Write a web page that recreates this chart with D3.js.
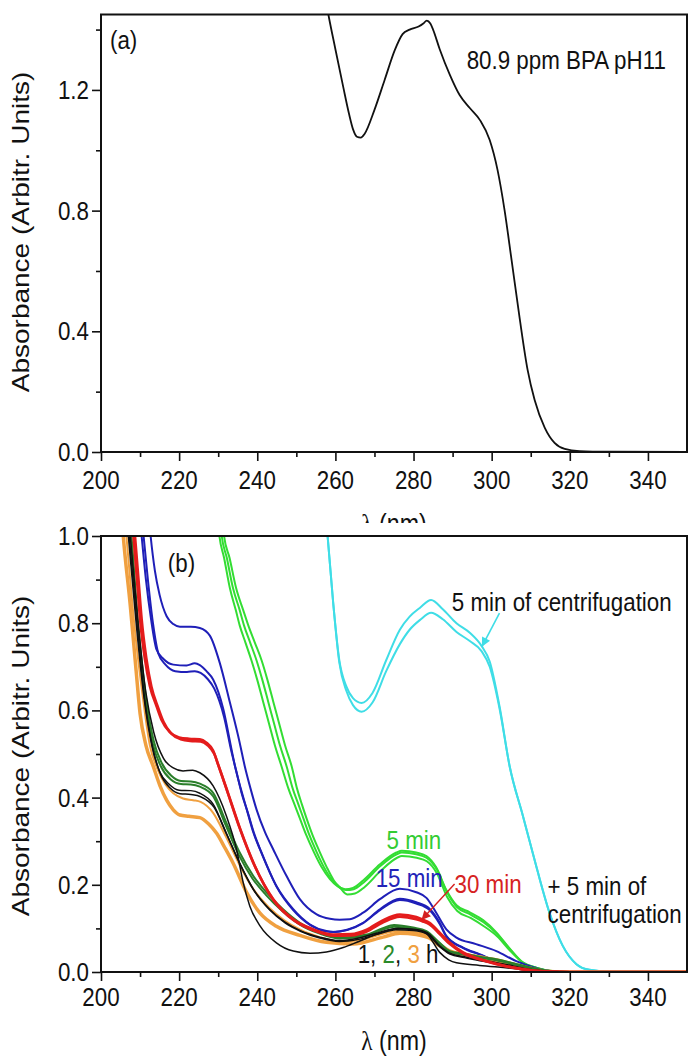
<!DOCTYPE html>
<html><head><meta charset="utf-8">
<script src="https://cdn.jsdelivr.net/npm/d3@7"></script>
<style>
body{margin:0;background:#fff}
svg{display:block}
text{font-family:"Liberation Sans",Arial,sans-serif;font-size:26px;fill:#111}
</style>
</head><body>
<svg id="c" width="689" height="1056"></svg>
<script>
// ---------------- DATA ----------------
const xMajorTicks = [200,220,240,260,280,300,320,340];
const xMinorTicks = [210,230,250,270,290,310,330];
const yTopMajor = [0.0,0.4,0.8,1.2];
const yTopMinor = [0.2,0.6,1.0,1.4];
const yBotMajor = [0.0,0.2,0.4,0.6,0.8,1.0];
const yBotMinor = [0.1,0.3,0.5,0.7,0.9];

// Panel (a): 80.9 ppm BPA pH11
const bpaSpectrum = [[255,1.7],[258.2,1.45],[260,1.335],[262,1.21],[263.5,1.12],[264.5,1.07],[265.5,1.045],[266.5,1.042],[267.5,1.055],[270,1.134],[272.6,1.233],[275.2,1.332],[277.2,1.385],[279,1.40],[281.3,1.41],[282.5,1.42],[283.4,1.43],[284.3,1.42],[285,1.40],[286.7,1.335],[289.3,1.25],[291.8,1.183],[294.4,1.14],[297,1.10],[299.5,1.034],[301.5,0.935],[303.3,0.802],[305.1,0.636],[307.2,0.44],[309.2,0.272],[311,0.172],[313.6,0.08],[316.1,0.03],[318.7,0.01],[322.5,0.003],[330,0.001],[350,0]];

// Panel (b)
const cyanUpper = [[256,1.25],[258,1.0],[259.4,0.85],[261,0.715],[262.8,0.655],[264.5,0.628],[266.7,0.617],[269.5,0.64],[273,0.715],[276.5,0.785],[279,0.815],[281.6,0.835],[284.5,0.853],[287.5,0.832],[291,0.80],[294.4,0.778],[297.4,0.748],[299.5,0.712],[302,0.61],[304.6,0.472],[308,0.358],[311.4,0.243],[314.8,0.136],[318.2,0.06],[321.7,0.018],[325,0.005],[330,0.001],[350,0]];
const cyanLower = [[256,1.25],[258,1.0],[259.4,0.85],[261,0.71],[262.8,0.645],[264.5,0.612],[266.7,0.597],[269.5,0.618],[273,0.69],[276.5,0.752],[279,0.785],[281.6,0.807],[284.5,0.824],[287.5,0.809],[291,0.78],[294.4,0.759],[297.4,0.736],[299.5,0.70],[302,0.605],[304.6,0.472],[308,0.358],[311.4,0.243],[314.8,0.136],[318.2,0.06],[321.7,0.018],[325,0.005],[330,0.001],[350,0]];

const green5a = [[229.3,1.1],[230.3,1.0],[231.5,0.95],[233,0.88],[234.5,0.83],[235.5,0.795],[237,0.755],[238.5,0.715],[240,0.67],[241.5,0.62],[243,0.57],[244.5,0.52],[246.2,0.472],[248,0.42],[249.5,0.385],[251,0.35],[252.5,0.315],[254.5,0.275],[256.5,0.24],[258.6,0.213],[260.5,0.197],[262.5,0.19],[264.5,0.193],[267.1,0.21],[271.4,0.247],[275.6,0.274],[277,0.278],[280.7,0.274],[283.3,0.266],[285.8,0.24],[288.4,0.188],[291,0.153],[294.4,0.137],[297.8,0.119],[301.2,0.091],[304.6,0.054],[308,0.022],[311.4,0.01],[314.8,0.003],[320,0],[350,0]];
const green5b = [[229.9,1.1],[230.9,1.0],[232.2,0.95],[233.8,0.88],[235.5,0.83],[236.6,0.795],[238.2,0.755],[239.8,0.715],[241.3,0.67],[242.8,0.62],[244.3,0.57],[245.8,0.52],[247.5,0.472],[249.1,0.42],[250.5,0.385],[251.9,0.35],[253.3,0.315],[255.2,0.275],[257.1,0.24],[259,0.213],[260.8,0.197],[262.7,0.188],[264.7,0.19],[267.3,0.206],[271.5,0.243],[275.7,0.27],[277,0.274],[280.7,0.27],[283.3,0.262],[285.9,0.236],[288.5,0.184],[291.1,0.149],[294.5,0.132],[297.9,0.114],[301.3,0.088],[304.7,0.052],[308,0.021],[311.4,0.01],[314.8,0.003],[320,0],[350,0]];
const green5c = [[230.5,1.1],[231.5,1.0],[232.9,0.95],[234.6,0.88],[236.4,0.83],[237.7,0.795],[239.4,0.755],[241.1,0.715],[242.6,0.67],[244.1,0.62],[245.6,0.57],[247.1,0.52],[248.8,0.472],[250.2,0.42],[251.4,0.385],[252.7,0.35],[254.1,0.315],[256,0.275],[257.8,0.24],[259.6,0.21],[261.3,0.192],[263,0.178],[265,0.18],[267.5,0.195],[271.6,0.232],[275.8,0.262],[277,0.266],[280.8,0.262],[283.4,0.254],[286,0.226],[288.6,0.172],[291.2,0.14],[294.6,0.124],[298,0.105],[301.4,0.082],[304.8,0.048],[308.2,0.02],[311.5,0.009],[315,0.002],[320,0],[350,0]];

const blue15a = [[211.7,1.1],[212.7,1.0],[213.8,0.92],[215,0.865],[216.8,0.816],[218.5,0.798],[220.2,0.792],[223,0.792],[225.3,0.789],[227.9,0.771],[230.4,0.709],[233,0.618],[235.5,0.526],[236.8,0.472],[238.3,0.42],[239.8,0.373],[242,0.32],[244.1,0.281],[247.5,0.22],[250.9,0.167],[255.2,0.132],[258.6,0.122],[261.1,0.12],[263.7,0.121],[267.1,0.136],[271.4,0.167],[276.5,0.191],[280.7,0.183],[283.3,0.17],[285.8,0.136],[288.4,0.098],[291,0.079],[296,0.064],[301.2,0.048],[306.3,0.025],[309.7,0.014],[313,0.005],[318,0],[350,0]];
const blue15b = [[209.4,1.1],[210.4,1.0],[211.5,0.9],[212.8,0.81],[214.2,0.74],[216,0.718],[218.5,0.705],[221.9,0.703],[224,0.708],[225.3,0.704],[227,0.69],[228.7,0.671],[231.3,0.603],[233.4,0.511],[234.3,0.472],[235.8,0.42],[237.3,0.373],[239,0.32],[240.7,0.281],[244.9,0.197],[249.2,0.144],[253.5,0.109],[257.7,0.094],[259.4,0.092],[263,0.097],[267.1,0.113],[271.4,0.144],[276.5,0.168],[280.7,0.16],[284.1,0.145],[286.7,0.113],[288.4,0.083],[292.7,0.056],[296.9,0.041],[301.2,0.025],[305.5,0.014],[310,0.005],[315,0],[350,0]];
const blue15c = [[209.9,1.1],[210.9,1.0],[212,0.9],[213.3,0.8],[214.7,0.73],[216.5,0.705],[219,0.69],[222,0.688],[224,0.69],[225.5,0.686],[227.3,0.672],[229,0.65],[231.5,0.585],[233.4,0.505],[234.6,0.462],[236,0.41],[237.6,0.365],[239.3,0.315],[241,0.276],[245,0.195],[249.2,0.142],[253.5,0.108],[257.7,0.093],[260,0.092],[263,0.096],[267.1,0.112],[271.4,0.142],[276.5,0.165],[280.7,0.157],[284.1,0.142],[286.7,0.11],[288.4,0.081],[292.7,0.055],[296.9,0.04],[301.2,0.025],[305.5,0.014],[310,0.005],[315,0],[350,0]];

const red30a = [[207.3,1.1],[208.3,1.0],[209.2,0.9],[210,0.809],[211.2,0.72],[212.5,0.656],[214.2,0.61],[215.5,0.578],[217.6,0.55],[220,0.538],[222.5,0.535],[225.3,0.534],[227,0.526],[228.7,0.508],[230,0.475],[232.3,0.415],[235.5,0.33],[239,0.25],[244.1,0.167],[249.2,0.121],[254.3,0.098],[259.4,0.086],[264,0.087],[268,0.097],[272,0.118],[276.5,0.132],[280.7,0.126],[282.4,0.12],[284.1,0.113],[286.7,0.09],[289.3,0.067],[292.7,0.045],[296.9,0.03],[301.2,0.019],[305.5,0.01],[310,0.004],[315,0.001],[320,0],[350,0]];
const red30b = [[207.7,1.1],[208.7,1.0],[209.6,0.9],[210.4,0.81],[211.6,0.72],[212.9,0.655],[214.6,0.607],[216,0.574],[218,0.547],[220.4,0.534],[222.8,0.53],[225.5,0.529],[227.3,0.52],[229,0.5],[230.3,0.468],[232.6,0.408],[235.8,0.324],[239.3,0.245],[244.3,0.163],[249.4,0.118],[254.5,0.095],[259.5,0.083],[264,0.084],[268,0.093],[272,0.113],[276.5,0.127],[280.7,0.121],[282.4,0.116],[284.1,0.109],[286.7,0.087],[289.3,0.064],[292.7,0.043],[296.9,0.029],[301.2,0.018],[305.5,0.01],[310,0.004],[315,0.001],[320,0],[350,0]];

const black1a = [[206.5,1.1],[207.5,1.0],[209.5,0.8],[211.5,0.64],[213.5,0.55],[216,0.49],[218.5,0.468],[221,0.461],[223.5,0.463],[225.3,0.457],[228.7,0.427],[232.1,0.358],[234.7,0.281],[236.4,0.205],[238.1,0.151],[240.7,0.106],[244.9,0.067],[249.2,0.048],[253.5,0.043],[257.7,0.046],[262,0.056],[266,0.07],[271,0.088],[276,0.1],[280,0.097],[283.3,0.088],[286.7,0.045],[289,0.028],[291,0.021],[296.9,0.015],[305.5,0.008],[310,0.003],[320,0],[350,0]];
const black1b = [[206,1.1],[207,1.0],[209,0.8],[211,0.63],[213,0.52],[215,0.46],[217.5,0.43],[220,0.417],[223,0.416],[225.3,0.41],[228.7,0.385],[232,0.32],[235.5,0.25],[239,0.19],[243,0.145],[247,0.115],[251,0.095],[256,0.08],[261,0.072],[266,0.078],[271,0.09],[275.5,0.1],[280,0.098],[283.5,0.09],[286.7,0.06],[289.3,0.043],[293,0.035],[297,0.028],[301,0.022],[305.5,0.014],[310,0.006],[315,0.001],[320,0],[350,0]];
const black1c = [[206.2,1.1],[207.2,1.0],[209.2,0.8],[211.2,0.625],[213.2,0.515],[215.2,0.455],[217.7,0.422],[220.2,0.409],[223,0.407],[225.5,0.402],[228.9,0.378],[232.2,0.315],[235.7,0.245],[239.2,0.186],[243.2,0.142],[247.2,0.112],[251.2,0.093],[256,0.078],[261,0.07],[266,0.075],[271,0.087],[275.5,0.097],[280,0.095],[283.5,0.087],[286.7,0.058],[289.3,0.041],[293,0.033],[297,0.026],[301,0.02],[305.5,0.012],[310,0.005],[315,0.001],[320,0],[350,0]];

const green2a = [[206.8,1.1],[207.8,1.0],[209.5,0.8],[211.5,0.63],[213.5,0.53],[215.5,0.48],[218,0.45],[220.5,0.438],[223,0.437],[225.3,0.432],[228.7,0.411],[232.1,0.342],[235.5,0.274],[239,0.22],[242.4,0.182],[246.6,0.144],[250.9,0.113],[256,0.09],[261.1,0.079],[268,0.086],[272,0.1],[275,0.108],[279.9,0.102],[283.3,0.094],[286.7,0.067],[289.3,0.048],[292.7,0.042],[296.9,0.035],[301.2,0.029],[305.5,0.02],[309.7,0.011],[314,0.003],[320,0],[350,0]];
const green2b = [[206.6,1.1],[207.6,1.0],[209.3,0.8],[211.3,0.625],[213.3,0.522],[215.3,0.472],[217.8,0.442],[220.5,0.431],[223,0.43],[225.3,0.425],[228.7,0.403],[232,0.335],[235.3,0.268],[238.8,0.214],[242.2,0.177],[246.4,0.14],[250.7,0.11],[256,0.088],[261.1,0.077],[268,0.083],[272,0.097],[275,0.104],[279.9,0.099],[283.3,0.091],[286.7,0.064],[289.3,0.046],[292.7,0.04],[296.9,0.033],[301.2,0.027],[305.5,0.018],[309.7,0.01],[314,0.003],[320,0],[350,0]];

const orange3a = [[205.5,1.1],[206.5,1.0],[208.5,0.8],[210.8,0.624],[212.5,0.52],[214.2,0.471],[216.5,0.43],[218.5,0.41],[221,0.398],[223.6,0.394],[225.5,0.39],[228.7,0.365],[232,0.31],[235.5,0.245],[239,0.19],[243,0.148],[247,0.118],[251,0.097],[256,0.08],[261,0.07],[266,0.072],[271,0.085],[276,0.094],[280,0.092],[283.5,0.085],[286.7,0.065],[289.3,0.05],[293,0.042],[297,0.036],[301,0.03],[305.5,0.02],[309.7,0.01],[314,0.002],[320,0],[350,0]];
const orange3b = [[204.5,1.15],[205.7,1.0],[207.5,0.84],[209,0.69],[210,0.593],[211.5,0.52],[213.4,0.471],[215.1,0.427],[216.8,0.394],[218.5,0.372],[220.2,0.36],[222.5,0.357],[225.3,0.354],[227.5,0.34],[229.6,0.318],[231.7,0.285],[233.8,0.25],[237.3,0.182],[240.7,0.135],[244.9,0.105],[250.9,0.084],[257.7,0.068],[264.5,0.064],[272.2,0.08],[276.5,0.089],[280.7,0.086],[284,0.078],[286.7,0.06],[289.3,0.047],[293,0.04],[297,0.034],[301,0.027],[305.5,0.018],[309.7,0.009],[314,0.002],[320,0],[350,0]];

// annotations (data coordinates)
const arrowCyan = [[302,0.823],[297.6,0.748]];
const arrowRed = [[290.5,0.202],[282.2,0.121]];

// ---------------- DRAW ----------------
const SX = 0.86;           // horizontal condensing of all text
const FS = 26;             // base font size
const svg = d3.select("#c");
const plotL = 101, plotR = 687;
const x = d3.scaleLinear().domain([200,350]).range([plotL, plotR]);
const yA = d3.scaleLinear().domain([0,1.45]).range([452, 14.5]);
const yB = d3.scaleLinear().domain([0,1.0]).range([972, 536]);

const defs = svg.append("defs");
function clip(id, y){
  defs.append("clipPath").attr("id", id).append("rect")
    .attr("x", plotL).attr("y", y.range()[1]).attr("width", plotR-plotL).attr("height", y.range()[0]-y.range()[1]);
}
clip("clipA", yA); clip("clipB", yB);
function marker(id, color){
  defs.append("marker").attr("id", id).attr("viewBox","0 0 10 10").attr("refX",9).attr("refY",5)
    .attr("markerWidth",11).attr("markerHeight",9).attr("markerUnits","userSpaceOnUse").attr("orient","auto")
    .append("path").attr("d","M0,0 L10,5 L0,10 z").attr("fill", color);
}
marker("mCyan","#3fdde6"); marker("mRed","#d42020");

// text helper: condensed text anchored at (px,py)
function label(px, py, anchor){
  return svg.append("text").attr("transform",`translate(${px},${py}) scale(${SX},1)`)
    .attr("text-anchor", anchor || "start");
}

function drawAxes(y, yMaj, yMin, xLabelBaseline){
  const g = svg.append("g");
  const yb = y.range()[0];
  g.append("g").attr("transform",`translate(0,${yb})`)
    .call(d3.axisBottom(x).tickValues(xMajorTicks).tickSize(9).tickFormat(""));
  g.append("g").attr("transform",`translate(0,${yb})`)
    .call(d3.axisBottom(x).tickValues(xMinorTicks).tickSize(5).tickFormat(""));
  g.append("g").attr("transform",`translate(${plotL},0)`)
    .call(d3.axisLeft(y).tickValues(yMaj).tickSize(9).tickFormat(""));
  g.append("g").attr("transform",`translate(${plotL},0)`)
    .call(d3.axisLeft(y).tickValues(yMin).tickSize(5).tickFormat(""));
  g.selectAll(".domain").remove();
  g.selectAll(".tick line").attr("stroke","#111").attr("stroke-width",1.6);
  // tick labels (condensed)
  xMajorTicks.forEach(v => label(x(v), xLabelBaseline, "middle").text(d3.format("d")(v)));
  yMaj.forEach(v => label(plotL-12, y(v)+9, "end").text(d3.format(".1f")(v)));
  // frame
  g.append("rect").attr("x",plotL).attr("y",y.range()[1]).attr("width",plotR-plotL).attr("height",yb-y.range()[1])
    .attr("fill","none").attr("stroke","#111").attr("stroke-width",2);
}

function drawSeries(list, y, clipId){
  const line = d3.line().x(d=>x(d[0])).y(d=>y(d[1])).curve(d3.curveMonotoneX);
  const g = svg.append("g").attr("clip-path",`url(#${clipId})`);
  list.forEach(s=>{
    g.append("path").attr("d", line(s.data)).attr("fill","none")
      .attr("stroke", s.color).attr("stroke-width", s.w).attr("stroke-linejoin","round");
  });
}

function yTitle(cy){
  svg.append("text").attr("transform",`translate(29,${cy}) scale(${SX},1) rotate(-90)`).attr("text-anchor","middle")
    .style("font-size","28px").text("Absorbance (Arbitr. Units)");
}
function xTitle(baseline){
  const t = label((plotL+plotR)/2, baseline, "middle").style("font-size","27px");
  t.append("tspan").style("font-family",'"Liberation Serif","Times New Roman",serif').text("λ");
  t.append("tspan").text(" (nm)");
}

// ---- Panel (a)
drawSeries([{data:bpaSpectrum, color:"#111", w:1.8}], yA, "clipA");
drawAxes(yA, yTopMajor, yTopMinor, 489);
xTitle(533);
yTitle(232);
label(x(202.3), yA(1.335)).text("(a)");
label(x(293.6), yA(1.27)).text("80.9 ppm BPA pH11");

// cover (bottom panel overlaps the x title of panel a)
svg.append("rect").attr("x",0).attr("y",523).attr("width",689).attr("height",533).attr("fill","#fff");

// ---- Panel (b)
const C = {cyan:"#3fdde6", green:"#33dd33", blue:"#1f1fb8", red:"#e41c1c", black:"#111", dgreen:"#2a7e2a", orange:"#f0a040"};
drawSeries([
  {data:cyanUpper, color:C.cyan, w:2},
  {data:cyanLower, color:C.cyan, w:2},
  {data:green5a, color:C.green, w:2},
  {data:green5b, color:C.green, w:2},
  {data:green5c, color:C.green, w:2},
  {data:blue15a, color:C.blue, w:2},
  {data:blue15b, color:C.blue, w:2},
  {data:blue15c, color:C.blue, w:2},
  {data:orange3b, color:C.orange, w:3.5},
  {data:orange3a, color:C.orange, w:2},
  {data:green2a, color:C.dgreen, w:2},
  {data:green2b, color:C.dgreen, w:2},
  {data:black1b, color:C.black, w:1.5},
  {data:black1c, color:C.black, w:1.5},
  {data:black1a, color:C.black, w:1.5},
  {data:red30a, color:C.red, w:2.6},
  {data:red30b, color:C.red, w:2.6}
], yB, "clipB");
drawAxes(yB, yBotMajor, yBotMinor, 1006);
xTitle(1050);
yTitle(756);

label(x(217.1), yB(0.918)).text("(b)");
label(x(289.8), yB(0.828)).text("5 min of centrifugation");
label(x(273.1), yB(0.282)).style("fill","#33cc33").text("5 min");
label(x(270.3), yB(0.196)).style("fill","#2323b8").text("15 min");
label(x(290.5), yB(0.181)).style("fill","#d62222").text("30 min");
label(x(314.3), yB(0.177)).text("+ 5 min of");
label(x(314.3), yB(0.113)).text("centrifugation");
const hl = label(x(265.7), yB(0.021));
hl.append("tspan").style("fill","#111").text("1, ");
hl.append("tspan").style("fill","#2a8a2a").text("2");
hl.append("tspan").style("fill","#111").text(", ");
hl.append("tspan").style("fill","#f0a040").text("3");
hl.append("tspan").style("fill","#111").text(" h");

const aline = (pts, y) => d3.line().x(d=>x(d[0])).y(d=>y(d[1]))(pts);
svg.append("path").attr("d", aline(arrowCyan, yB)).attr("stroke","#3fdde6").attr("stroke-width",1.6).attr("fill","none").attr("marker-end","url(#mCyan)");
svg.append("path").attr("d", aline(arrowRed, yB)).attr("stroke","#d42020").attr("stroke-width",1.4).attr("fill","none").attr("marker-end","url(#mRed)");
</script>
</body></html>
